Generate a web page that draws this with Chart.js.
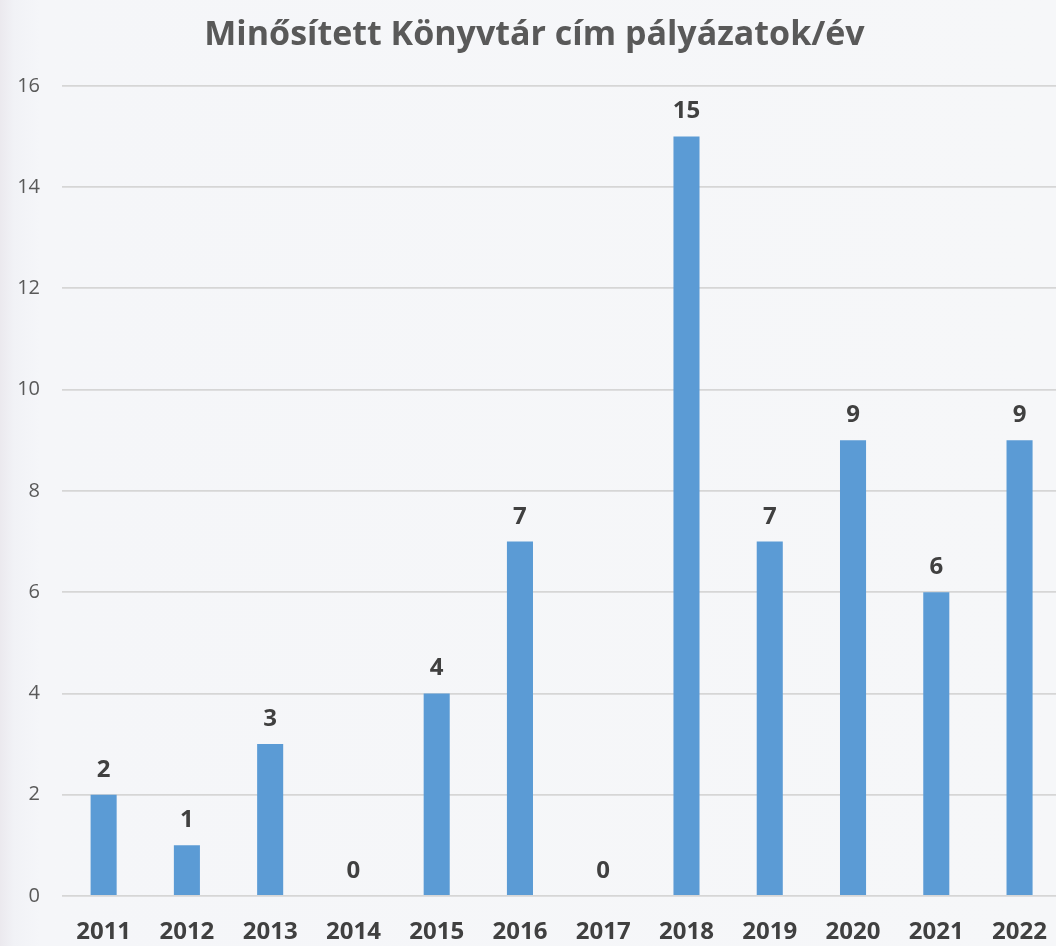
<!DOCTYPE html>
<html>
<head>
<meta charset="utf-8">
<script src="https://cdn.jsdelivr.net/npm/chart.js@4.4.1/dist/chart.umd.min.js"></script>
<style>
  html, body { margin: 0; padding: 0; overflow: hidden; }
  body {
    width: 1056px; height: 946px;
    background: linear-gradient(to right, #ebe9ee 0px, #f1f2f6 14px, #f5f6f9 40px, #f6f7f9 100%);
  }
  canvas { display: block; }
</style>
</head>
<body>
<canvas id="chart" width="1069" height="946"></canvas>
<script>
// --- data ---
const years = ['2011','2012','2013','2014','2015','2016','2017','2018','2019','2020','2021','2022'];
const counts = [2, 1, 3, 0, 4, 7, 0, 15, 7, 9, 6, 9];
const titleText = 'Minősített Könyvtár cím pályázatok/év';

// value labels above bars
const valueLabels = {
  id: 'valueLabels',
  afterDatasetsDraw(chart){
    const c = chart.ctx;
    const meta = chart.getDatasetMeta(0);
    c.save();
    c.font = 'bold 24px "Open Sans"';
    c.fillStyle = '#404040';
    c.textAlign = 'center';
    c.textBaseline = 'alphabetic';
    meta.data.forEach((bar, i) => {
      c.fillText(String(counts[i]), bar.x, bar.y - 18);
    });
    c.restore();
  }
};

new Chart(document.getElementById('chart'), {
  type: 'bar',
  data: {
    labels: years,
    datasets: [{
      data: counts,
      backgroundColor: '#5b9bd5',
      borderWidth: 0,
      categoryPercentage: 1,
      barPercentage: 0.313
    }]
  },
  options: {
    responsive: false,
    animation: false,
    layout: { padding: 0 },
    plugins: {
      legend: { display: false },
      tooltip: { enabled: false },
      title: {
        display: true,
        text: titleText,
        color: '#595959',
        font: { family: 'Open Sans', size: 34, weight: 'bold' },
        padding: { top: 15, bottom: 30 }
      }
    },
    scales: {
      x: {
        afterFit(scale){ scale.height = 50; },
        grid: { display: false, drawTicks: false },
        border: { display: false },
        ticks: {
          color: '#404040',
          font: { family: 'Open Sans', size: 24, weight: 'bold' },
          padding: 22,
          maxRotation: 0
        }
      },
      y: {
        min: 0, max: 16,
        afterFit(scale){ scale.width = 62; },
        grid: { color: '#d6d6d6', lineWidth: 1.8, drawTicks: false },
        border: { display: false },
        ticks: {
          stepSize: 2,
          color: '#595959',
          font: { family: 'Open Sans', size: 20 },
          padding: 22
        }
      }
    }
  },
  plugins: [valueLabels]
});
</script>
</body>
</html>
